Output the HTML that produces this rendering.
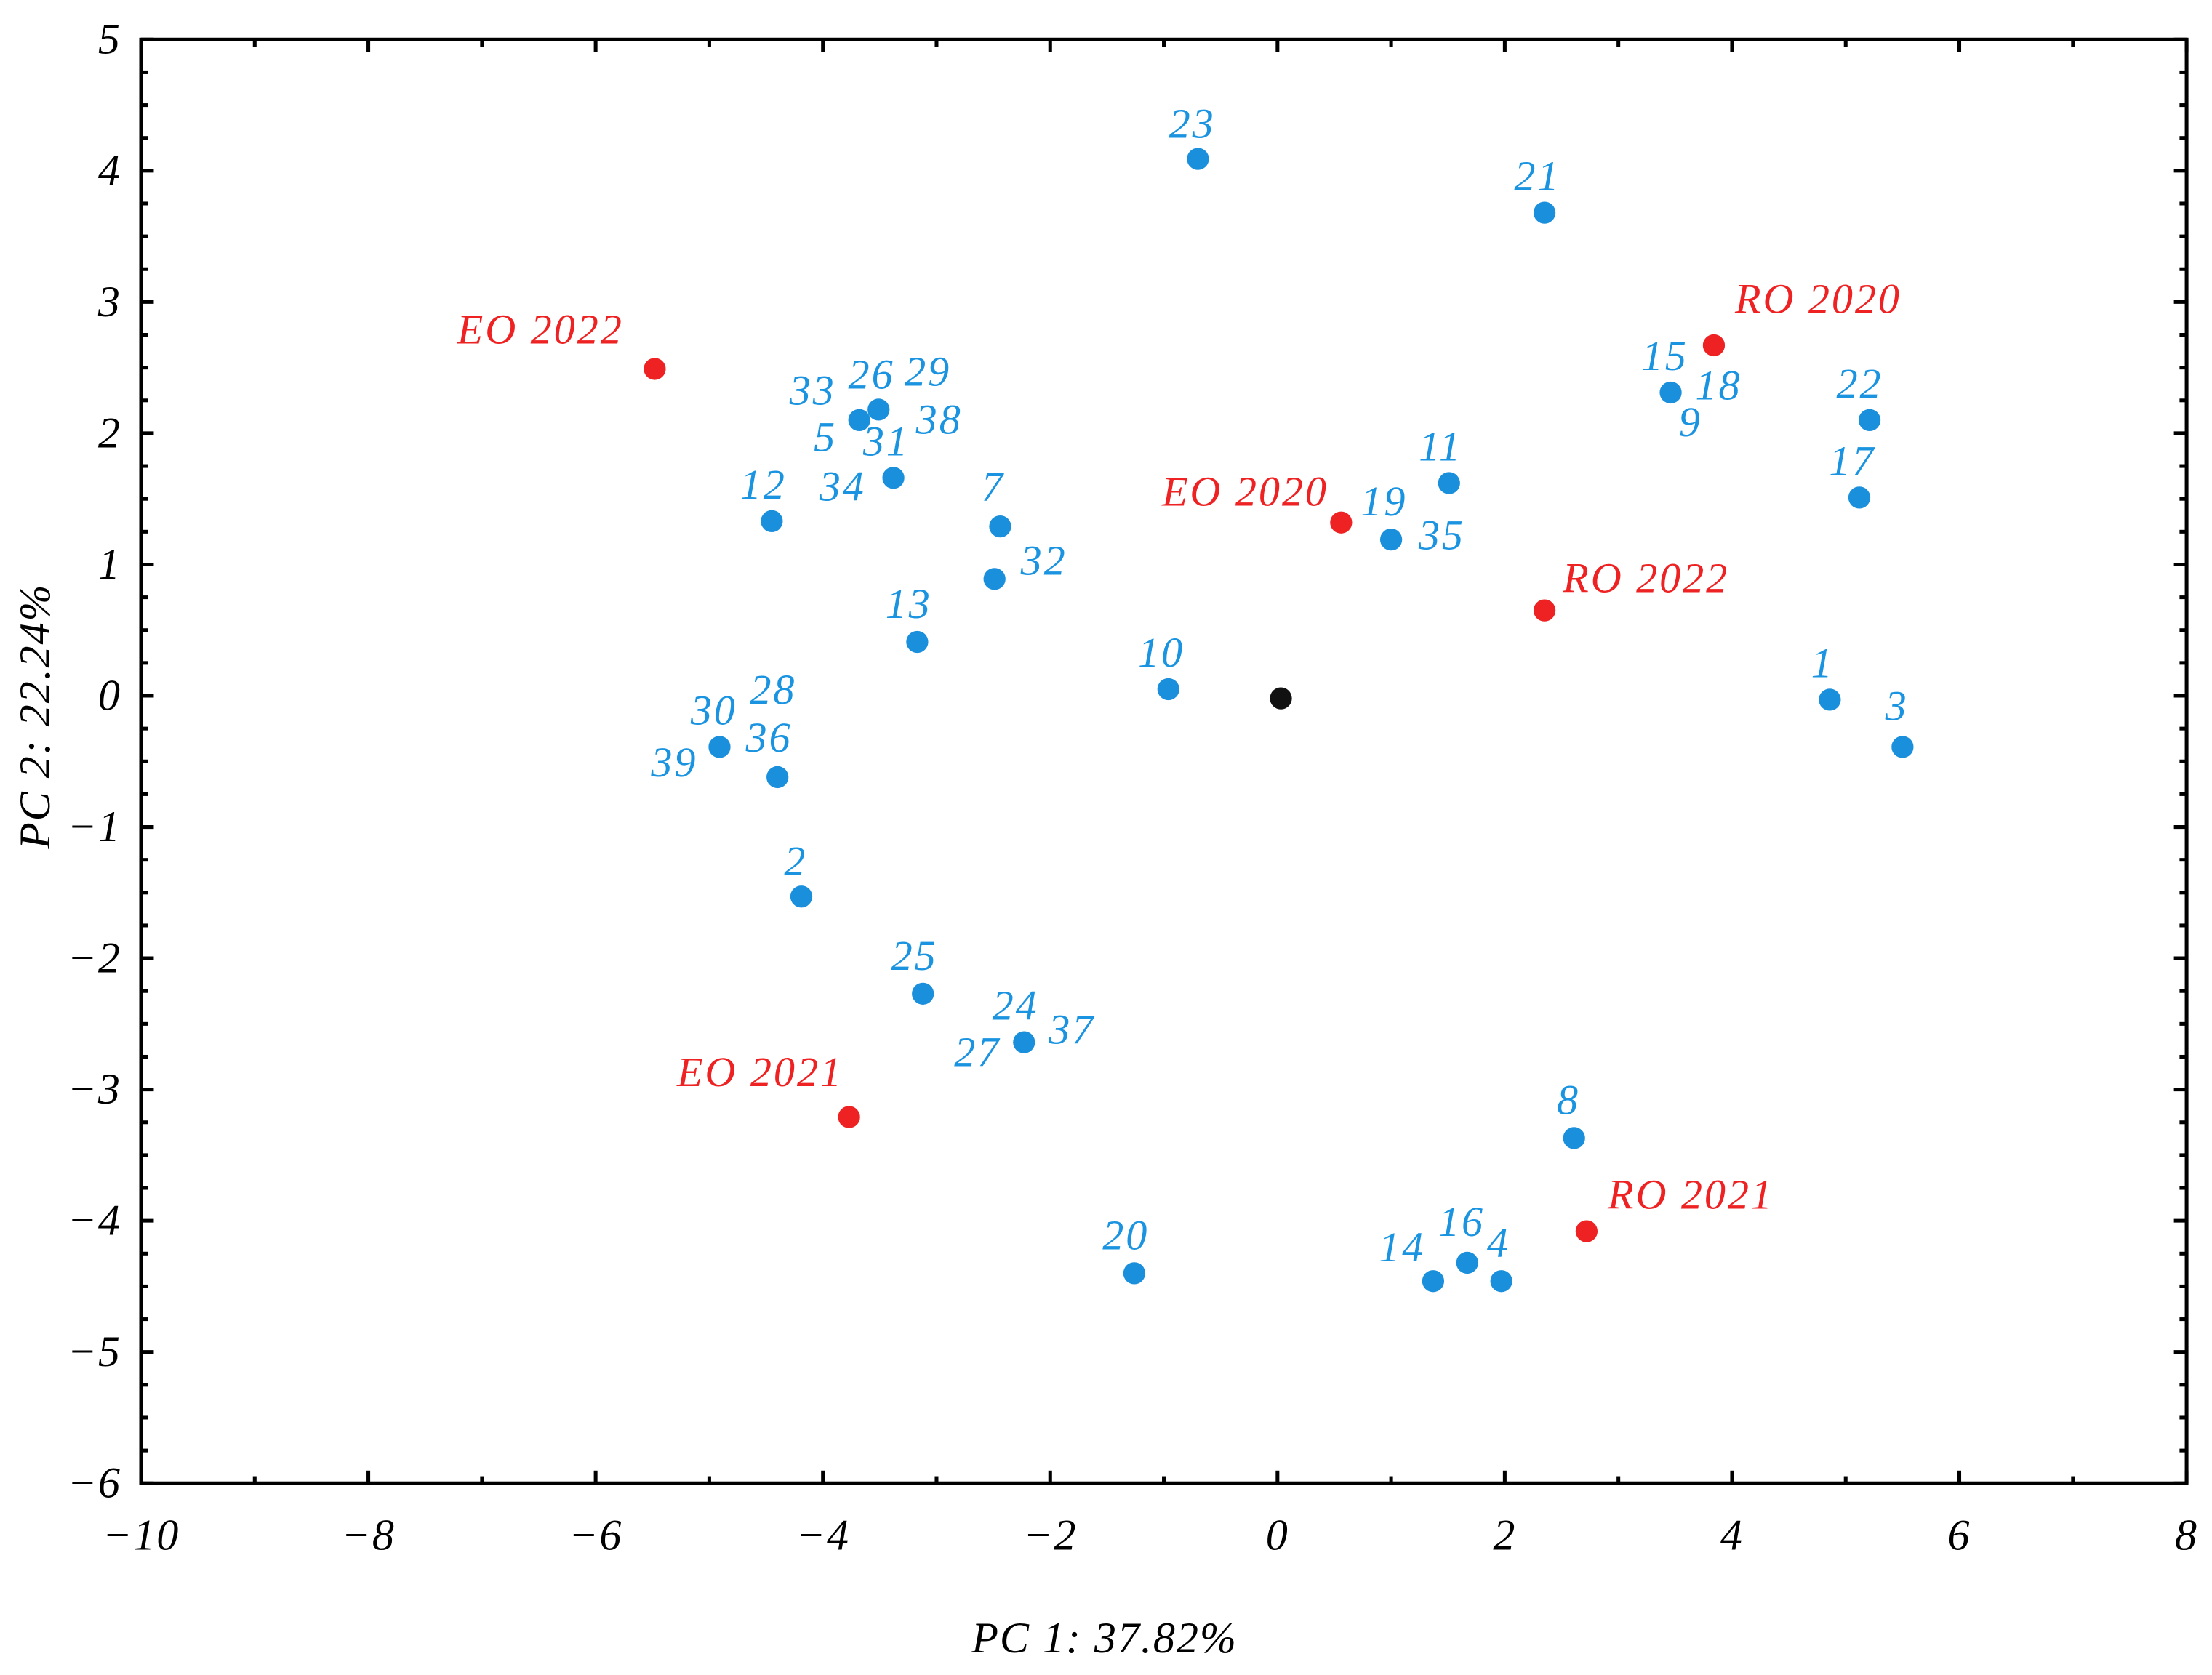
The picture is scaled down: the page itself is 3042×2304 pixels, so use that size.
<!DOCTYPE html>
<html><head><meta charset="utf-8"><style>
html,body{margin:0;padding:0;background:#fff}
svg{display:block}
text{font-family:"Liberation Serif",serif;font-style:italic}
</style></head><body>
<svg id="chart" width="3042" height="2304" viewBox="0 0 1568 1188" preserveAspectRatio="none" xmlns="http://www.w3.org/2000/svg">
<g id="axes"></g>
<g id="marks"></g>
<text x="783" y="1172" font-size="31" letter-spacing="1" text-anchor="middle">PC 1: 37.82%</text>
<text x="0" y="0" font-size="31" letter-spacing="1" text-anchor="middle" transform="translate(35,508) rotate(-90)">PC 2: 22.24%</text>
</svg>
<script>
const labels = ["23","21","RO 2020","15","22","17","EO 2022","33","26","31","12","7","32","EO 2020","19","11","RO 2022","13","10","origin","1","3","30","36","2","25","24","EO 2021","8","RO 2021","20","14","16","4"];
const xVals = [-0.70,2.35,3.84,3.46,5.21,5.12,-5.48,-3.68,-3.51,-3.38,-4.45,-2.44,-2.49,0.56,1.00,1.51,2.35,-3.17,-0.96,0.03,4.86,5.50,-4.91,-4.40,-4.19,-3.12,-2.23,-3.77,2.61,2.72,-1.26,1.37,1.67,1.97];
const yVals = [4.09,3.68,2.67,2.31,2.10,1.51,2.49,2.10,2.18,1.66,1.33,1.29,0.89,1.32,1.19,1.62,0.65,0.41,0.05,-0.02,-0.03,-0.39,-0.39,-0.62,-1.53,-2.27,-2.64,-3.21,-3.37,-4.08,-4.40,-4.46,-4.32,-4.46];
const groups = ["b","b","r","b","b","b","r","b","b","b","b","b","b","r","b","b","r","b","b","k","b","b","b","b","b","b","b","r","b","r","b","b","b","b"];
const xTicks = [-10,-8,-6,-4,-2,0,2,4,6,8];
const yTicks = [-6,-5,-4,-3,-2,-1,0,1,2,3,4,5];
// text annotations: [point index, text, dx, dy, anchor]
const annots = [
[0,"23",-4,-15,"middle"],[1,"21",-5,-16,"middle"],[2,"RO 2020",15,-23,"start"],
[3,"15",-4,-16,"middle"],[3,"18",34,5,"middle"],[3,"9",14,31,"middle"],
[4,"22",-7,-16,"middle"],[5,"17",-5,-16,"middle"],[6,"EO 2022",-22,-18,"end"],
[7,"33",-33,-11,"middle"],[8,"26",-5,-15,"middle"],[8,"29",35,-17,"middle"],[7,"5",-24,22,"middle"],[8,"38",43,17,"middle"],
[9,"31",-5,-16,"middle"],[9,"34",-36,16,"middle"],[10,"12",-6,-16,"middle"],[11,"7",-5,-18,"middle"],[12,"32",35,-3,"middle"],
[13,"EO 2020",-9,-12,"end"],[14,"19",-5,-17,"middle"],[14,"35",36,7,"middle"],[15,"11",-6,-16,"middle"],[16,"RO 2022",13,-13,"start"],
[17,"13",-6,-17,"middle"],[18,"10",-5,-16,"middle"],[20,"1",-5,-16,"middle"],[21,"3",-4,-19,"middle"],
[22,"30",-4,-16,"middle"],[23,"28",-3,-52,"middle"],[23,"36",-6,-18,"middle"],[22,"39",-32,21,"middle"],
[24,"2",-4,-15,"middle"],[25,"25",-6,-17,"middle"],[26,"24",-6,-16,"middle"],[26,"37",34,1,"middle"],[26,"27",-33,17,"middle"],
[27,"EO 2021",-4,-22,"end"],[28,"8",-4,-17,"middle"],[29,"RO 2021",15,-16,"start"],
[30,"20",-6,-17,"middle"],[31,"14",-22,-14,"middle"],[32,"16",-4,-19,"middle"],[33,"4",-2,-17,"middle"]
];
const L=100,R=1550,T=28,B=1052,xMin=-10,xMax=8,yMin=-6,yMax=5;
const sx=v=>L+(v-xMin)/(xMax-xMin)*(R-L);
const sy=v=>B-(v-yMin)/(yMax-yMin)*(B-T);
const NS="http://www.w3.org/2000/svg";
function mk(tag,attrs,parent){const e=document.createElementNS(NS,tag);for(const k in attrs)e.setAttribute(k,attrs[k]);parent.appendChild(e);return e;}
const axes=document.getElementById('axes'),marks=document.getElementById('marks');
const frame=mk('rect',{x:L,y:T,width:R-L,height:B-T,fill:'none',stroke:'#000','stroke-width':2.6},axes);


for(let v=xMin;v<=xMax;v+=1){
  const maj=(v%2===0), len=maj?9:5, x=sx(v);
  const t1=mk('line',{x1:x,x2:x,y1:B,y2:B-len,stroke:'#000','stroke-width':2.6},axes);
  
  
  const t2=mk('line',{x1:x,x2:x,y1:T,y2:T+len,stroke:'#000','stroke-width':2.6},axes);
  
  
}
xTicks.forEach(v=>{
  const t=mk('text',{x:sx(v),y:1099,'font-size':31,'letter-spacing':1,'text-anchor':'middle'},axes);
  t.textContent=v<0?'\u2212'+(-v):String(v);
  
  
});
for(let i=0;i<=(yMax-yMin)*4;i++){
  const v=yMin+i/4, maj=(i%4===0), len=maj?9:5, y=sy(v);
  const t1=mk('line',{x1:L,x2:L+len,y1:y,y2:y,stroke:'#000','stroke-width':2.6},axes);
  
  
  const t2=mk('line',{x1:R,x2:R-len,y1:y,y2:y,stroke:'#000','stroke-width':2.6},axes);
  
  
}
yTicks.forEach(v=>{
  const t=mk('text',{x:86,y:sy(v)+10,'font-size':31,'letter-spacing':1,'text-anchor':'end'},axes);
  t.textContent=v<0?'\u2212'+(-v):String(v);
  
  
});
const col={b:'#1a8fdc',r:'#ee2222',k:'#111'};
const tcol={b:'#1a94e0',r:'#ee2222',k:'#111'};
xVals.forEach((xv,i)=>{
  const c=mk('circle',{cx:sx(xv),cy:sy(yVals[i]),r:7.8,fill:col[groups[i]]},marks);
  
  
});
annots.forEach(a=>{
  const i=a[0];
  const t=mk('text',{x:sx(xVals[i])+a[2],y:sy(yVals[i])+a[3],'font-size':30,'letter-spacing':1.5,'text-anchor':a[4],fill:tcol[groups[i]]},marks);
  t.textContent=a[1];
  
  
});
</script>
</body></html>
